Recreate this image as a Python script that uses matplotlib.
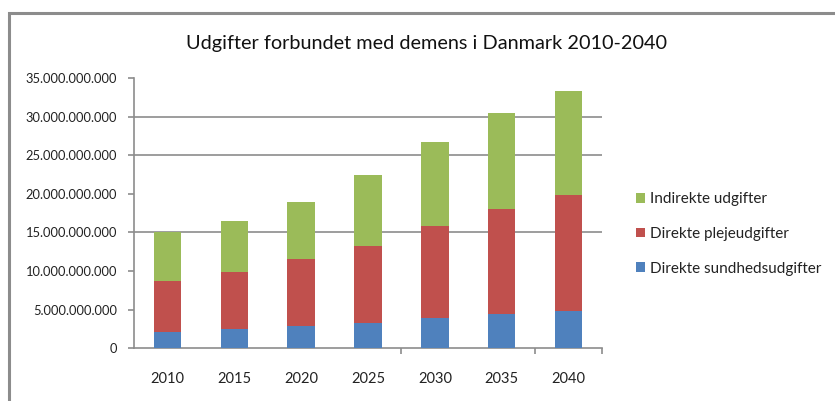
import numpy as np
import matplotlib
matplotlib.use('Agg')
import matplotlib.pyplot as plt
from matplotlib.patches import Rectangle
from matplotlib.ticker import FuncFormatter

plt.rcParams['font.family'] = ['Lato', 'DejaVu Sans']

# Data (milliarder kr., aflæst)
aar = ['2010', '2015', '2020', '2025', '2030', '2035', '2040']
sundhed = np.array([2.15, 2.46, 2.89, 3.24, 3.96, 4.40, 4.87]) * 1e9
pleje = np.array([6.61, 7.46, 8.64, 10.05, 11.88, 13.68, 15.03]) * 1e9
indirekte = np.array([6.27, 6.57, 7.46, 9.11, 10.92, 12.36, 13.47]) * 1e9
serier = ['Direkte sundhedsudgifter', 'Direkte plejeudgifter', 'Indirekte udgifter']
farver = ['#4f81bd', '#c0504d', '#9bbb59']

fig = plt.figure(figsize=(8.35, 4.01), dpi=100)
ax = fig.add_axes([134/835, 1-348.3/401, (602-134)/835, (348.3-78.1)/401])

# ydre ramme
fig.patches.append(Rectangle((9/835, -0.1), 1.0, 1-13/401+0.1, transform=fig.transFigure,
                             fill=False, edgecolor='#8c8c8c', linewidth=2.2))

x = np.arange(len(aar))
b = 0.41
ax.bar(x, sundhed, b, color=farver[0], label=serier[0], zorder=3)
ax.bar(x, pleje, b, bottom=sundhed, color=farver[1], label=serier[1], zorder=3)
ax.bar(x, indirekte, b, bottom=sundhed + pleje, color=farver[2], label=serier[2], zorder=3)

ax.set_xlim(-0.5, len(aar) - 0.5)
ax.set_ylim(0, 35e9)
ax.set_yticks(np.arange(0, 35e9 + 1, 5e9))
ax.yaxis.set_major_formatter(FuncFormatter(lambda v, p: '{:,.0f}'.format(v).replace(',', '.')))
for g in [15e9, 25e9, 30e9]:
    ax.axhline(g, color='#8c8c8c', linewidth=1.2, zorder=1)

ax.set_xticks(x)
ax.set_xticklabels(aar)
ax.tick_params(axis='x', length=0, pad=17, labelsize=10.5, colors='#222222')
ax.tick_params(axis='y', length=4, width=1.2, color='#8c8c8c', labelsize=9.3, colors='#222222', pad=8)
ax.set_xticks([3.5, 5.5, 6.5], minor=True)
ax.tick_params(axis='x', which='minor', length=4, width=1.2, color='#8c8c8c')

for s in ['top', 'right']:
    ax.spines[s].set_visible(False)
for s in ['left', 'bottom']:
    ax.spines[s].set_color('#8c8c8c')
    ax.spines[s].set_linewidth(1.2)

fig.text(426/835, 1-44/401, 'Udgifter forbundet med demens i Danmark 2010-2040',
         ha='center', va='center', fontsize=14.3, color='#111111')

h, l = ax.get_legend_handles_labels()
fig.legend(h[::-1], l[::-1], loc='center left', bbox_to_anchor=(622/835, 1-234/401),
           frameon=False, fontsize=11, handlelength=0.6, handleheight=0.6,
           handletextpad=0.35, labelspacing=1.35, labelcolor='#222222')

fig.savefig('out.png', dpi=100)
